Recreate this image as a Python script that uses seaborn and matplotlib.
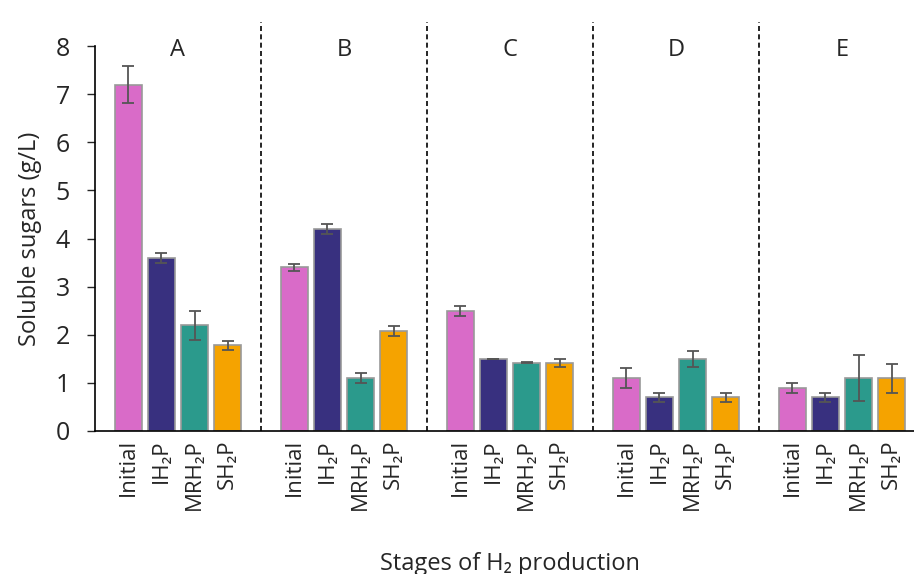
import matplotlib
matplotlib.use("Agg")
import matplotlib.pyplot as plt
import seaborn as sns
import pandas as pd
import numpy as np

groups = ["A", "B", "C", "D", "E"]
stages = ["Initial", "IH\u2082P", "MRH\u2082P", "SH\u2082P"]
sugars = {
    "A": [7.2, 3.6, 2.2, 1.78],
    "B": [3.4, 4.2, 1.1, 2.08],
    "C": [2.5, 1.5, 1.42, 1.42],
    "D": [1.1, 0.7, 1.5, 0.7],
    "E": [0.9, 0.7, 1.1, 1.1],
}
errors = {
    "A": [0.38, 0.1, 0.3, 0.1],
    "B": [0.08, 0.1, 0.1, 0.1],
    "C": [0.1, 0.0, 0.01, 0.08],
    "D": [0.2, 0.1, 0.17, 0.1],
    "E": [0.1, 0.1, 0.48, 0.3],
}
colors = ["#d96bc8", "#38307f", "#2b9a8c", "#f5a300"]

rows = []
for g in groups:
    for s, v, e in zip(stages, sugars[g], errors[g]):
        rows.append({"group": g, "stage": s, "value": v, "err": e})
df = pd.DataFrame(rows)

sns.set_theme(style="white")
plt.rcParams["font.family"] = ["Open Sans", "DejaVu Sans"]

fig = plt.figure(figsize=(9.14, 5.74), dpi=100)
ax = fig.add_axes([95 / 914, 143 / 574, 830 / 914, 385 / 574])

sns.barplot(data=df, x="group", y="value", hue="stage", order=groups,
            hue_order=stages, palette=colors, gap=0.18, edgecolor="#999999",
            linewidth=1.2, saturation=1, errorbar=None, legend=False, ax=ax)

# error bars + tick positions from the drawn bars
centers, labels = [], []
bars = [p for p in ax.patches]
for i, s in enumerate(stages):
    for j, g in enumerate(groups):
        p = bars[i * len(groups) + j]
        cx = p.get_x() + p.get_width() / 2
        row = df[(df.group == g) & (df.stage == s)].iloc[0]
        ax.errorbar(cx, row.value, yerr=row.err, color="#555555", capsize=4,
                    elinewidth=1.3, capthick=1.3)
        centers.append(cx)
        labels.append(s)

ax.set_xticks(centers)
ax.set_xticklabels(labels, rotation=90, fontsize=16)
ax.tick_params(axis="x", which="major", length=0, pad=6)
ax.set_xticks(np.arange(-0.5, 5, 1), minor=True)
ax.tick_params(axis="x", which="minor", length=10, direction="inout", width=1.2)

ax.set_xlim(-0.5, 4.5)
ax.set_ylim(0, 8)
ax.set_yticks(range(0, 9))
ax.tick_params(axis="y", labelsize=18, length=6, direction="out", width=1,
               left=True, pad=12)

for x in np.arange(0.5, 4, 1):
    ax.vlines(x, 0, 8.5, colors="black", linestyles=(0, (3, 2)), linewidth=1.2,
              clip_on=False)
for j, g in enumerate(groups):
    ax.text(j, 7.92, g, ha="center", va="center", fontsize=17)

ax.set_xlabel("Stages of H\u2082 production", fontsize=17, labelpad=30)
ax.set_ylabel("Soluble sugars (g/L)", fontsize=17, labelpad=10)

sns.despine(ax=ax)
for sp in ["left", "bottom"]:
    ax.spines[sp].set_color("black")
    ax.spines[sp].set_linewidth(1.2)

fig.savefig("out.png", dpi=100)
